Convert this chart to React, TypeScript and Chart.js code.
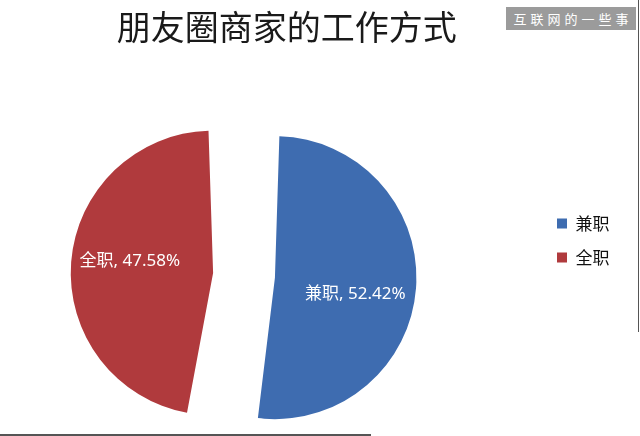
import React, { useEffect, useRef } from 'react';
import { Chart, registerables } from 'chart.js';

Chart.register(...registerables);

const categories = ['兼职', '全职'];
const shares = [52.42, 47.58];
const sliceColors = ['#3e6cb0', '#b03a3d'];
const titleText = '朋友圈商家的工作方式';
const watermarkText = '互联网的一些事';

const CANVAS_SHIFT_X = 46;
const CANVAS_W = 640 + CANVAS_SHIFT_X;
const CANVAS_H = 487;

const sliceLabelPlugin = {
  id: 'sliceLabels',
  afterDatasetsDraw(chart: any, _args: any, opts: any) {
    const meta = chart.getDatasetMeta(0);
    const ctx = chart.ctx;
    ctx.save();
    ctx.font = opts.font;
    ctx.fillStyle = opts.color;
    ctx.textAlign = 'center';
    ctx.textBaseline = 'middle';
    meta.data.forEach((arc: any, i: number) => {
      const p = arc.getProps(['x', 'y', 'startAngle', 'endAngle', 'outerRadius'], true);
      const mid = (p.startAngle + p.endAngle) / 2;
      const shift = (arc.options.offset || 0) / 4;
      const cx = p.x + Math.cos(mid) * shift;
      const cy = p.y + Math.sin(mid) * shift;
      const r = (p.outerRadius + shift) * opts.distance[i];
      const a = mid + ((opts.angleShift[i] || 0) * Math.PI) / 180;
      const v = Number(chart.data.datasets[0].data[i]).toFixed(2);
      const text = `${chart.data.labels[i]}, ${v}%`;
      ctx.fillText(text, cx + Math.cos(a) * r, cy + Math.sin(a) * r);
    });
    ctx.restore();
  },
};

export default function App() {
  const ref = useRef<HTMLCanvasElement | null>(null);

  useEffect(() => {
    if (!ref.current) return;
    const chart = new Chart(ref.current, {
      type: 'pie',
      data: {
        labels: categories,
        datasets: [
          {
            data: shares,
            backgroundColor: sliceColors,
            borderWidth: 0,
            offset: [112, 136],
            radius: 113.5,
          } as any,
        ],
      },
      options: {
        responsive: false,
        animation: false,
        events: [],
        layout: { padding: { left: 0, right: 20.5, top: 0, bottom: 0 } },
        plugins: {
          tooltip: { enabled: false },
          title: {
            display: true,
            text: titleText,
            color: '#1a1a1a',
            font: { family: '"Noto Sans CJK SC", sans-serif', size: 34, weight: 'normal', lineHeight: 1.2 },
            padding: { top: 6.6, bottom: 16.6 },
          },
          legend: {
            position: 'right',
            align: 'start',
            title: {
              display: true,
              text: ' ',
              font: { size: 10, lineHeight: 1 },
              padding: { top: 188, bottom: 0 },
            },
            labels: {
              boxWidth: 10,
              boxHeight: 10,
              padding: 17,
              color: '#111',
              font: { family: '"Noto Sans CJK SC", sans-serif', size: 17, lineHeight: 1.2 },
            },
          },
          sliceLabels: {
            font: '17px "Noto Sans", "Noto Sans CJK SC", sans-serif',
            color: '#ffffff',
            distance: [0.58, 0.57],
            angleShift: [7.5, 3.7],
          },
        } as any,
      },
      plugins: [sliceLabelPlugin as any],
    });
    return () => chart.destroy();
  }, []);

  return (
    <div style={{ position: 'absolute', left: 0, top: 0, width: 640, height: 436, background: '#fff', overflow: 'hidden' }}>
      <canvas
        ref={ref}
        width={CANVAS_W}
        height={CANVAS_H}
        style={{ position: 'absolute', left: -CANVAS_SHIFT_X, top: 0, width: CANVAS_W, height: CANVAS_H, display: 'block' }}
      />
      <div
        style={{
          position: 'absolute',
          left: 506,
          top: 7,
          width: 130,
          height: 23,
          background: '#9b9b9b',
          color: '#ffffff',
          font: '13px "Noto Sans CJK SC", sans-serif',
          letterSpacing: 4,
          lineHeight: '23px',
          textAlign: 'center',
          paddingLeft: 4,
          boxSizing: 'border-box',
        }}
      >
        {watermarkText}
      </div>
      <div style={{ position: 'absolute', left: 638, top: 0, width: 1, height: 332, background: '#555' }} />
      <div style={{ position: 'absolute', left: 0, top: 434, width: 371, height: 2, background: '#555' }} />
    </div>
  );
}
